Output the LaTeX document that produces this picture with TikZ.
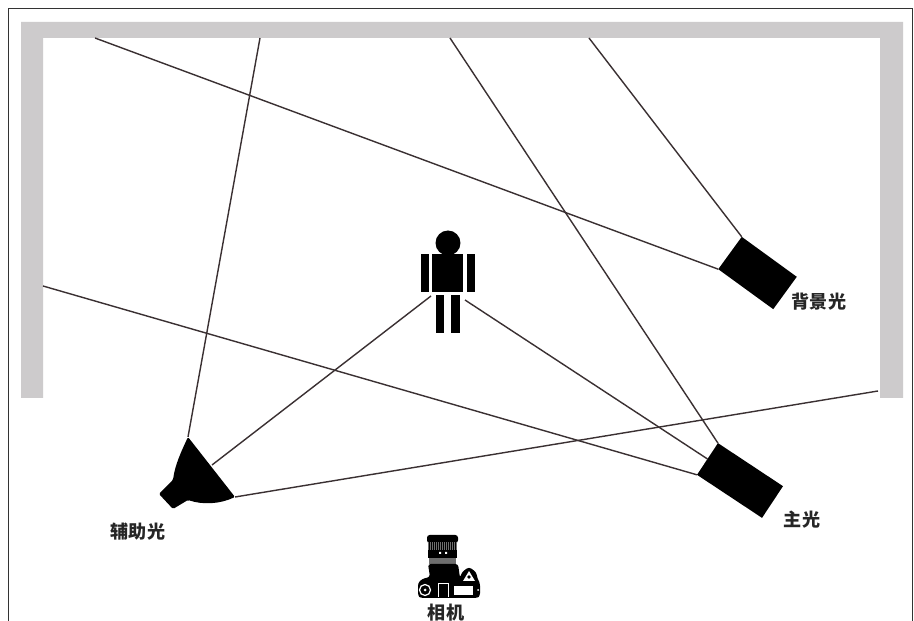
\documentclass[tikz,border=0pt]{standalone}
\usepackage{fontspec}
\usepackage{xcolor}
\usetikzlibrary{arrows.meta,positioning}
\newfontfamily\cjk{Noto Sans CJK SC}
\definecolor{BeamInk}{HTML}{3A3032}
\definecolor{WallFill}{HTML}{CDCBCC}
\definecolor{LensGray}{HTML}{6E6E6E}
\tikzset{
  figure/.style={x=0.02cm,y=-0.02cm,font=\cjk\bfseries\fontsize{10.3}{12}\selectfont,text=black!85},
  beam/.style={line width=0.8pt,draw=BeamInk},
  lightbox/.style={fill=black,inner sep=0pt,outer sep=0pt},
  bodypart/.style={fill=black,inner sep=0pt,outer sep=0pt,rectangle},
}

\begin{document}
\begin{tikzpicture}[figure]
  \useasboundingbox (0,0) rectangle (914,621);
  \fill[white] (0,0) rectangle (914,621);

  % frame and wall
  \draw[line width=0.8pt,draw=black!80] (8.5,621) -- (8.5,8.5) -- (912.5,8.5) -- (912.5,621);
  \fill[WallFill] (21,398) -- (21,22) -- (903,22) -- (903,398) -- (880,398) -- (880,38) -- (43,38) -- (43,398) -- cycle;

  % lights
  \node[lightbox,minimum width=1.56cm,minimum height=0.76cm,rotate=-33.5] (keylight) at (740,480.5) {};
  \node[lightbox,minimum width=1.36cm,minimum height=0.8cm,rotate=-36] (backlight) at (757.5,273) {};
  \coordinate (filltop) at (188,437);
  \coordinate (fillmid) at (212,465);
  \coordinate (fillend) at (235,497);
  \fill[black,rounded corners=0.8] (filltop) .. controls (181,452) and (175,465) .. (173,480) -- (159,494) -- (173,509) -- (188,500)
    .. controls (203,505) and (220,504) .. (fillend) -- cycle;

  % person
  \node[bodypart,circle,minimum size=0.5cm] (head) at (448,243) {};
  \node[bodypart,minimum width=0.62cm,minimum height=0.76cm] (torso) at (447.5,273) {};
  \node[bodypart,minimum width=0.16cm,minimum height=0.76cm] (leftarm) at (425,273) {};
  \node[bodypart,minimum width=0.16cm,minimum height=0.76cm] (rightarm) at (471,273) {};
  \node[bodypart,minimum width=0.17cm,minimum height=0.76cm] (leftleg) at (440,314) {};
  \node[bodypart,minimum width=0.17cm,minimum height=0.76cm] (rightleg) at (455.5,314) {};
  \coordinate (personleft) at (431,296);
  \coordinate (personright) at (465,300);

  % free ends on the wall
  \coordinate (fillhit) at (260,38);
  \coordinate (keyhit) at (450,38);
  \coordinate (backhit) at (589,38);
  \coordinate (backhitb) at (95,38);
  \coordinate (keyhitb) at (43,286);
  \coordinate (fillhitb) at (878,391);

  % beams
  \draw[beam] (filltop) -- (fillhit);
  \draw[beam] (fillmid) -- (personleft);
  \draw[beam] (fillend) -- (fillhitb);
  \draw[beam] (keylight.north west) -- (keyhit);
  \draw[beam] (keylight.west) -- (personright);
  \draw[beam] (keylight.south west) -- (keyhitb);
  \draw[beam] (backlight.north west) -- (backhit);
  \draw[beam] (backlight.south west) -- (backhitb);

  % camera
  \fill[black,rounded corners=1.5] (427,535) rectangle (458,543);
  \fill[LensGray] (428,542) rectangle (457,550);
  \foreach \hx in {429,431,...,456} \draw[black,line width=0.25pt] (\hx,542) -- (\hx,550);
  \fill[black] (428,550) rectangle (457,558);
  \fill[LensGray] (429,558) rectangle (456,564);
  \fill[white] (439,552) rectangle (441,554) (445,552) rectangle (447,554);
  \fill[black,rounded corners=1.5] (428,564) -- (458,564) -- (460,578) -- (462,572) -- (469,567) -- (476,572) -- (478,580)
    -- (480,583) -- (480,596) -- (477,598) -- (421,598) -- (418,596) -- (418,583) -- (422,579) -- (430,577) -- cycle;
  \draw[white,line width=0.5pt] (438,597) -- (438,583) -- (448,583) -- (448,597);
  \draw[white,line width=0.7pt] (425,590) circle (5.5);
  \fill[white] (425,590) circle (1.5);
  \fill[white] (469,571) -- (475,581) -- (463,581) -- cycle;
  \fill[black] (469,577) circle (1.8);
  \fill[white] (454,586) rectangle (473,595);
  \fill[white] (478,590) circle (1);

  % labels
  \node (filllabel) at (138,532) {辅助光};
  \node (keylabel) at (802,520) {主光};
  \node (backlabel) at (819,302) {背景光};
  \node (cameralabel) at (446,613) {相机};
\end{tikzpicture}
\end{document}
